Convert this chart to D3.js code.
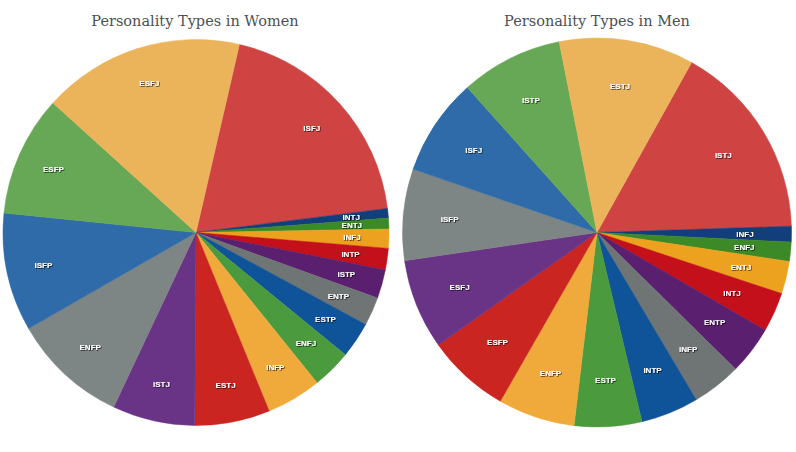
<!DOCTYPE html>
<html>
<head>
<meta charset="utf-8">
<script src="https://cdn.jsdelivr.net/npm/d3@7"></script>
<style>
  html, body { margin: 0; padding: 0; background: #ffffff; }
  svg { display: block; }
</style>
</head>
<body>
<svg id="chart" width="796" height="452"></svg>
<script>
// ---- Data ----
const womenTypes  = ["ISFJ","INTJ","ENTJ","INFJ","INTP","ISTP","ENTP","ESTP","ENFJ","INFP","ESTJ","ISTJ","ENFP","ISFP","ESFP","ESFJ"];
const womenValues = [19.4, 0.8, 0.9, 1.6, 1.8, 2.4, 2.4, 3.0, 3.3, 4.6, 6.3, 6.9, 9.7, 9.9, 10.1, 16.9];

const menTypes  = ["ISTJ","INFJ","ENFJ","ENTJ","INTJ","ENTP","INFP","INTP","ESTP","ENFP","ESFP","ESFJ","ISFP","ISFJ","ISTP","ESTJ"];
const menValues = [16.4, 1.3, 1.6, 2.7, 3.3, 4.0, 4.1, 4.8, 5.6, 6.4, 6.9, 7.5, 7.6, 8.1, 8.5, 11.2];

// colours in drawing order (largest first, then ascending)
const sliceColors = ["#cf4343","#123f7c","#3c8a27","#eca21e","#c4101a","#5a1f6f","#6f7474","#0f5398",
                     "#4c9a3e","#f0aa3c","#cb2522","#6a3486","#7e8585","#2f6ba8","#66a855","#ebb45b"];

const titles = ["Personality Types in Women", "Personality Types in Men"];

// ---- Drawing ----
const svg = d3.select("#chart");
const defs = svg.append("defs");
const f = defs.append("filter").attr("id","shadow").attr("x","-20%").attr("y","-40%").attr("width","140%").attr("height","180%");
f.append("feDropShadow").attr("dx",0.8).attr("dy",0.8).attr("stdDeviation",0.5)
  .attr("flood-color","#000").attr("flood-opacity",0.75);

const deg = Math.PI / 180;
const pies = [
  { types: womenTypes, values: womenValues, cx: 196, cy: 232.5, r: 193, start: 13.0, labelR: 156, title: titles[0], tx: 195 },
  { types: menTypes,   values: menValues,   cx: 597, cy: 232.5, r: 194.5, start: 29.1, labelR: 148, title: titles[1], tx: 597 }
];

pies.forEach(p => {
  const data = p.types.map((t, i) => ({ type: t, value: p.values[i], color: sliceColors[i] }));
  const pie = d3.pie().sort(null).value(d => d.value)
    .startAngle(p.start * deg).endAngle(p.start * deg + 2 * Math.PI);
  const arcs = pie(data);
  const arc = d3.arc().innerRadius(0).outerRadius(p.r);
  const labelArc = d3.arc().innerRadius(p.labelR).outerRadius(p.labelR);

  const g = svg.append("g").attr("transform", `translate(${p.cx},${p.cy})`);
  g.selectAll("path").data(arcs).join("path")
    .attr("d", arc)
    .attr("fill", d => d.data.color)
    .attr("stroke", d => d.data.color)
    .attr("stroke-width", 0.5);

  g.selectAll("text").data(arcs).join("text")
    .attr("transform", d => `translate(${labelArc.centroid(d)})`)
    .attr("text-anchor", "middle")
    .attr("dy", "0.35em")
    .attr("fill", "#ffffff")
    .attr("font-family", "'Liberation Sans', Arial, sans-serif")
    .attr("font-weight", "bold")
    .attr("font-size", 8)
    .attr("filter", "url(#shadow)")
    .text(d => d.data.type);

  svg.append("text")
    .attr("x", p.tx).attr("y", 26)
    .attr("text-anchor", "middle")
    .attr("fill", "#4c5153")
    .attr("font-family", "'DejaVu Serif', serif")
    .attr("font-size", 14.5)
    .text(p.title);
});
</script>
</body>
</html>
